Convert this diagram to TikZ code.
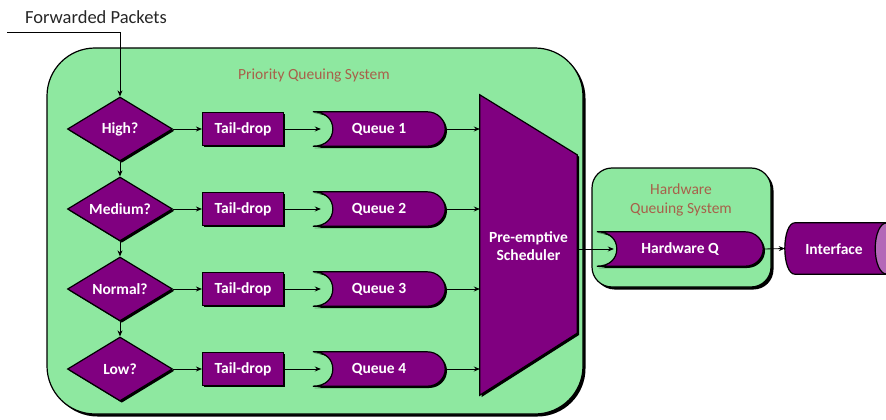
\documentclass[tikz,border=0pt]{standalone}
\usepackage{fontspec}
\setmainfont{Carlito}
\usetikzlibrary{shapes.geometric,arrows.meta,shadows,calc}
\definecolor{boxgreen}{HTML}{8EE8A0}
\definecolor{qpurple}{HTML}{800080}
\definecolor{lblbrown}{HTML}{A8604A}
\definecolor{endpurple}{HTML}{B468B8}
\newcommand\qshape[3]{%
  \node[qnode,minimum width=#3] (#1) at (#2) {};
  \draw[purp,shad] (#1.north west) -- ($(#1.north east)+(-18,0)$)
    .. controls +(10,0) and +(0,-9.5) .. (#1.east)
    .. controls +(0,9.5) and +(10,0) .. ($(#1.south east)+(-18,0)$)
    -- (#1.south west)
    .. controls +(13,0) and +(0,9.5) .. ($(#1.west)+(20,0)$)
    .. controls +(0,-9.5) and +(13,0) .. (#1.north west) -- cycle;
}
\begin{document}
\begin{tikzpicture}[x=1pt,y=-1pt,
  arr/.style={-{Stealth[length=6pt,width=5pt]},line width=0.8pt},
  shad/.style={drop shadow={shadow xshift=1.8pt,shadow yshift=-1.8pt,fill=black,opacity=1}},
  bigshad/.style={drop shadow={shadow xshift=2.5pt,shadow yshift=-2.5pt,fill=black,opacity=1}},
  purp/.style={fill=qpurple,draw=black,line width=1.2pt},
  wtext/.style={text=white,font=\fontsize{15.5}{18}\selectfont\bfseries,align=center},
  decide/.style={diamond,purp,shad,wtext,minimum width=105pt,minimum height=64pt,aspect=1.64,inner sep=0pt},
  tdrop/.style={rectangle,purp,shad,wtext,minimum width=81pt,minimum height=33pt,inner sep=0pt},
  qnode/.style={minimum height=34pt,inner sep=0pt},
  sysbox/.style={draw=black,fill=boxgreen,line width=1.2pt,bigshad},
  syslabel/.style={text=lblbrown,font=\fontsize{15.5}{19}\selectfont,align=center}
]
\useasboundingbox (0,0) rectangle (886,420);

% systems
\node[sysbox,rounded corners=48pt,minimum width=536pt,minimum height=366pt] (pqs) at (315,231) {};
\node[syslabel] (pqsl) at (314,76) {Priority Queuing System};
\node[sysbox,rounded corners=20pt,minimum width=179pt,minimum height=119pt] (hqs) at (681.5,227.5) {};
\node[syslabel] (hqsl) at (681,200) {Hardware\\Queuing System};

% input
\node[font=\fontsize{18.5}{20}\selectfont,text=black!85] (fwd) at (96,17) {Forwarded Packets};
\coordinate (in) at (7,32);

% decisions
\node[decide] (high) at (120,129) {High?};
\node[decide] (medium) at (120,209) {Medium?};
\node[decide] (normal) at (120,289) {Normal?};
\node[decide] (low) at (120,369) {Low?};

% tail drops
\node[tdrop] (t1) at (243,129) {Tail-drop};
\node[tdrop] (t2) at (243,209) {Tail-drop};
\node[tdrop] (t3) at (243,289) {Tail-drop};
\node[tdrop] (t4) at (243,369) {Tail-drop};

% queues
\qshape{q1}{379,129}{132pt}
\qshape{q2}{379,209}{132pt}
\qshape{q3}{379,289}{132pt}
\qshape{q4}{379,369}{132pt}
\node[wtext] (q1t) at (q1) {Queue 1};
\node[wtext] (q2t) at (q2) {Queue 2};
\node[wtext] (q3t) at (q3) {Queue 3};
\node[wtext] (q4t) at (q4) {Queue 4};

% scheduler
\node[minimum width=97pt,minimum height=300pt,inner sep=0pt] (sch) at (528.5,245) {};
\draw[purp,shad] (sch.north west) -- ($(sch.north east)+(0,60)$) -- ($(sch.south east)+(0,-62)$) -- (sch.south west) -- cycle;
\node[wtext] (scht) at (528.5,246) {Pre-emptive\\Scheduler};

% hardware queue
\qshape{hq}{680,249}{166pt}
\node[wtext] (hqt) at (hq) {Hardware Q};

% interface
\node[minimum width=101pt,minimum height=51pt,inner sep=0pt] (ifc) at (835.5,248.5) {};
\draw[purp] (ifc.north east) -- ($(ifc.north west)+(10,0)$)
  .. controls +(-6,0) and +(0,-14) .. (ifc.west)
  .. controls +(0,14) and +(-6,0) .. ($(ifc.south west)+(10,0)$)
  -- (ifc.south east) -- cycle;
\draw[fill=endpurple,draw=black,line width=1.2pt] (ifc.east) ellipse [x radius=11pt,y radius=25.5pt];
\node[wtext] (ifct) at (834,249) {Interface};

% connectors
\draw[arr] (in) -| (high.north);
\draw[arr] (high.south) -- (medium.north);
\draw[arr] (medium.south) -- (normal.north);
\draw[arr] (normal.south) -- (low.north);
\foreach \d/\t/\q in {high/t1/q1,medium/t2/q2,normal/t3/q3,low/t4/q4}{
  \draw[arr] (\d.east) -- (\t.west);
  \draw[arr] (\t.east) -- ($(\q.west)+(8,0)$);
  \draw[arr] (\q.east) -- (\q.east -| sch.west);
}
\draw[arr] (hq.west -| sch.east) -- ($(hq.west)+(17,0)$);
\draw[arr] (hq.east) -- (ifc.west);
\end{tikzpicture}
\end{document}
